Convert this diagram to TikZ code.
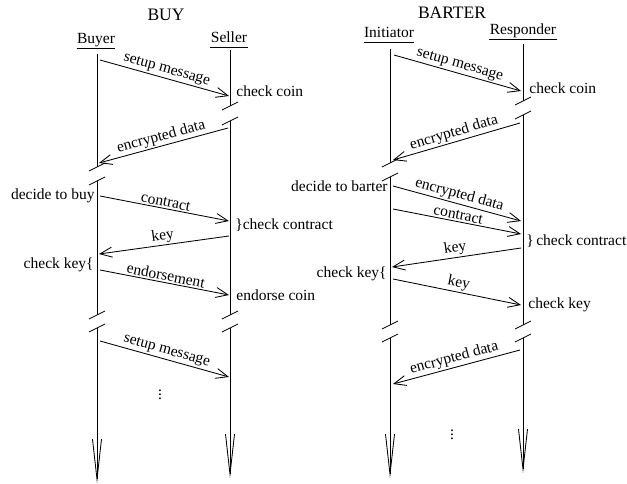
\documentclass[tikz,border=0pt]{standalone}
\usepackage{fontspec}
\setmainfont{Liberation Serif}
\usetikzlibrary{arrows.meta}
\begin{document}
\begin{tikzpicture}[x=1pt,y=-1pt,
  font=\fontsize{15.5}{18}\selectfont,
  line width=0.85pt,
  msg/.style={-{Straight Barb[length=12pt,width=10pt]}},
  life/.style={-{Straight Barb[length=40pt,width=9pt]}},
  lbl/.style={midway, above, sloped, inner sep=1.5pt},
  txt/.style={inner sep=0pt},
  ttl/.style={inner sep=0pt, anchor=base, font=\fontsize{17.5}{20}\selectfont},
  uline/.style={line width=0.6pt},
  brk/.style={line width=0.85pt}]
\useasboundingbox (0,0) rectangle (627,484);

% ---------------- BUY ----------------
\node[ttl] (buyT) at (166,20.5) {BUY};
\node[txt, anchor=base] (buyer) at (96,44) {Buyer};
\node[txt, anchor=base] (seller) at (229,42.5) {Seller};
\draw[uline] ([yshift=-4.5pt]buyer.base west) -- ([yshift=-4.5pt]buyer.base east);
\draw[uline] ([yshift=-4.5pt]seller.base west) -- ([yshift=-4.5pt]seller.base east);

% lifeline coordinates
\coordinate (B0) at (97,54);
\coordinate (B1) at (97,167);
\coordinate (B2) at (97,181);
\coordinate (B3) at (97,315);
\coordinate (B4) at (97,328);
\coordinate (B5) at (97,483);
\coordinate (S0) at (230,50);
\coordinate (S1) at (230,106);
\coordinate (S2) at (230,121);
\coordinate (S3) at (230,315);
\coordinate (S4) at (230,328);
\coordinate (S5) at (230,478);
\draw (B0) -- (B1);
\draw (B2) -- (B3);
\draw[life] (B4) -- (B5);
\draw (S0) -- (S1);
\draw (S2) -- (S3);
\draw[life] (S4) -- (S5);
\foreach \p in {B1,B2,B3,B4,S1,S2,S3,S4}
  \draw[brk] ([shift={(-8pt,-4pt)}]\p) -- ([shift={(8pt,4pt)}]\p);

% messages
\coordinate (a1) at (100,60);  \coordinate (a1e) at (229,96);
\coordinate (a2) at (228,128); \coordinate (a2e) at (99,163);
\coordinate (a3) at (100,196); \coordinate (a3e) at (229,221);
\coordinate (a4) at (229,236); \coordinate (a4e) at (99,254);
\coordinate (a5) at (100,270); \coordinate (a5e) at (229,295);
\coordinate (a6) at (100,341); \coordinate (a6e) at (229,377);
\draw[msg] (a1) -- node[lbl] {setup message} (a1e);
\draw[msg] (a2) -- node[lbl] {encrypted data} (a2e);
\draw[msg] (a3) -- node[lbl] {contract} (a3e);
\draw[msg] (a4) -- node[lbl] {key} (a4e);
\draw[msg] (a5) -- node[lbl] {endorsement} (a5e);
\draw[msg] (a6) -- node[lbl] {setup message} (a6e);

\node[txt, anchor=base west] (cc1) at (236,97) {check coin};
\node[txt, anchor=base east] (dtb) at (95,200) {decide to buy};
\node[txt, anchor=base west] (ck1) at (235,229.5) {\}check contract};
\node[txt, anchor=base east] (kk1) at (94,268) {check key\{};
\node[txt, anchor=base west] (ec1) at (236,300) {endorse coin};
\node (dots1) at (160,392) {$\vdots$};

% ---------------- BARTER ----------------
\node[ttl] (barT) at (452,19) {BARTER};
\node[txt, anchor=base] (init) at (389,38) {Initiator};
\node[txt, anchor=base] (resp) at (523,35) {Responder};
\draw[uline] ([yshift=-4pt]init.base west) -- ([yshift=-4pt]init.base east);
\draw[uline] ([yshift=-4pt]resp.base west) -- ([yshift=-4pt]resp.base east);

\coordinate (I0) at (390,49);
\coordinate (I1) at (390,163);
\coordinate (I2) at (390,177);
\coordinate (I3) at (390,325);
\coordinate (I4) at (390,338);
\coordinate (I5) at (390,478);
\coordinate (R0) at (523,44);
\coordinate (R1) at (523,101);
\coordinate (R2) at (523,115);
\coordinate (R3) at (523,325);
\coordinate (R4) at (523,338);
\coordinate (R5) at (523,473);
\draw (I0) -- (I1);
\draw (I2) -- (I3);
\draw[life] (I4) -- (I5);
\draw (R0) -- (R1);
\draw (R2) -- (R3);
\draw[life] (R4) -- (R5);
\foreach \p in {I1,I2,I3,I4,R1,R2,R3,R4}
  \draw[brk] ([shift={(-8pt,-4pt)}]\p) -- ([shift={(8pt,4pt)}]\p);

\coordinate (b1) at (394,55);  \coordinate (b1e) at (521,91);
\coordinate (b2) at (520,123); \coordinate (b2e) at (393,160);
\coordinate (b3) at (393,186); \coordinate (b3e) at (521,221);
\coordinate (b4) at (393,209); \coordinate (b4e) at (521,234);
\coordinate (b5) at (521,248); \coordinate (b5e) at (392,267);
\coordinate (b6) at (393,279); \coordinate (b6e) at (521,305);
\coordinate (b7) at (520,350); \coordinate (b7e) at (393,384);
\draw[msg] (b1) -- node[lbl] {setup message} (b1e);
\draw[msg] (b2) -- node[lbl] {encrypted data} (b2e);
\draw[msg] (b3) -- node[lbl] {encrypted data} (b3e);
\draw[msg] (b4) -- node[lbl] {contract} (b4e);
\draw[msg] (b5) -- node[lbl] {key} (b5e);
\draw[msg] (b6) -- node[lbl] {key} (b6e);
\draw[msg] (b7) -- node[lbl] {encrypted data} (b7e);

\node[txt, anchor=base west] (cc2) at (529,94) {check coin};
\node[txt, anchor=base east] (dtr) at (388,192) {decide to barter};
\node[txt, anchor=base west] (ck2) at (526,245) {\}\hspace{2.5pt}check contract};
\node[txt, anchor=base east] (kk2) at (387,277) {check key\{};
\node[txt, anchor=base west] (ck3) at (528,308) {check key};
\node (dots2) at (452,432) {$\vdots$};
\end{tikzpicture}
\end{document}
